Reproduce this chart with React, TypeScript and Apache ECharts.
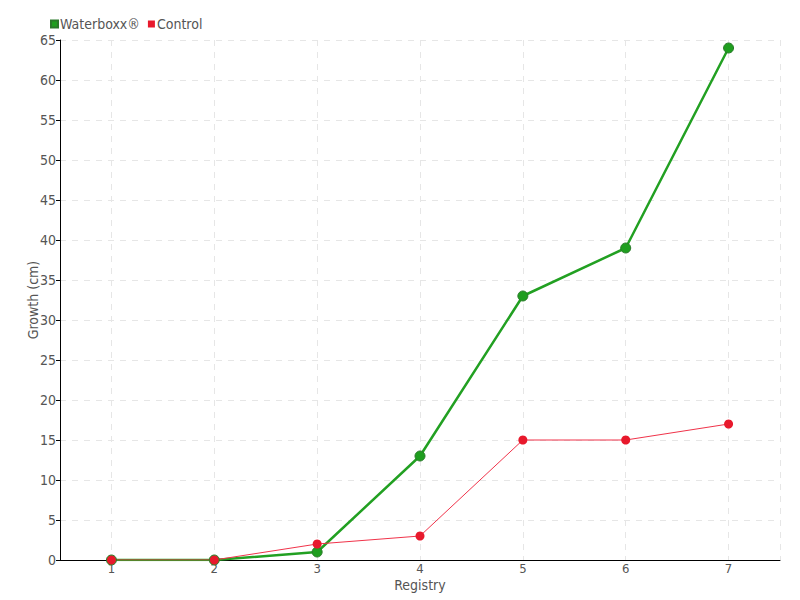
import React, { useEffect, useRef } from "react";
import * as echarts from "echarts";

const categories = ["1", "2", "3", "4", "5", "6", "7"];
const waterboxx = [0, 0, 1, 13, 33, 39, 64];
const control = [0, 0, 2, 3, 15, 15, 17];

const FONT = "'DejaVu Sans Condensed', 'Liberation Sans Narrow', sans-serif";

export default function App() {
  const ref = useRef<HTMLDivElement>(null);
  useEffect(() => {
    const chart = echarts.init(ref.current!, null, { renderer: "svg" });
    const halfSteps = categories.flatMap((c) => [c + "a", c + "b"]);
    chart.setOption({
      animation: false,
      textStyle: { fontFamily: FONT, color: "#555" },
      legend: {
        left: 45,
        top: 12,
        icon: "rect",
        itemWidth: 7,
        itemHeight: 7,
        itemGap: 8,
        textStyle: { fontFamily: FONT, fontSize: 14, color: "#555", padding: [0, 0, 0, -3] },
        data: ["Waterboxx®", "Control"],
      },
      grid: { left: 60, right: 20, top: 40, bottom: 40 },
      xAxis: [
        {
          type: "category",
          data: categories,
          boundaryGap: true,
          name: "Registry",
          nameLocation: "middle",
          nameGap: 18,
          nameMoveOverlap: false,
          nameTextStyle: { fontFamily: FONT, fontSize: 14, color: "#555", lineHeight: 14 },
          axisLine: { lineStyle: { color: "#000", width: 1 } },
          axisTick: { alignWithLabel: true, length: 4, lineStyle: { color: "#555" } },
          axisLabel: { fontFamily: FONT, fontSize: 13, color: "#555", margin: 2, lineHeight: 13 },
          splitLine: { show: false },
        },
        {
          type: "category",
          data: halfSteps,
          boundaryGap: true,
          position: "bottom",
          axisLine: { show: false },
          axisTick: { show: false },
          axisLabel: { show: false },
          splitLine: {
            show: true,
            interval: (i: number) => i % 2 === 1,
            lineStyle: { color: "#e6e6e6", type: [6, 6] },
          },
        },
      ],
      yAxis: {
        type: "value",
        min: 0,
        max: 65,
        interval: 5,
        name: "Growth (cm)",
        nameLocation: "middle",
        nameGap: 20,
        nameMoveOverlap: false,
        nameTextStyle: { fontFamily: FONT, fontSize: 14, color: "#555" },
        axisLine: { show: true, lineStyle: { color: "#000", width: 1 } },
        axisTick: { show: true, length: 4, lineStyle: { color: "#000" } },
        axisLabel: { fontFamily: FONT, fontSize: 14, color: "#555", margin: 4 },
        splitLine: { show: true, lineStyle: { color: "#e6e6e6", type: [6, 6] } },
      },
      series: [
        {
          name: "Waterboxx®",
          type: "line",
          data: waterboxx,
          color: "#1fa01f",
          lineStyle: { width: 2.5, color: "#22a022" },
          symbol: "circle",
          symbolSize: 10,
          itemStyle: { color: "#1f9e1f", borderColor: "#2a7a2a", borderWidth: 1 },
        },
        {
          name: "Control",
          type: "line",
          data: control,
          color: "#e8192c",
          lineStyle: { width: 1, color: "#f0334a" },
          symbol: "circle",
          symbolSize: 9,
          itemStyle: { color: "#e8192c" },
        },
      ],
    });
    return () => chart.dispose();
  }, []);
  return <div ref={ref} style={{ width: 800, height: 600, position: "absolute", left: 0, top: 0 }} />;
}
